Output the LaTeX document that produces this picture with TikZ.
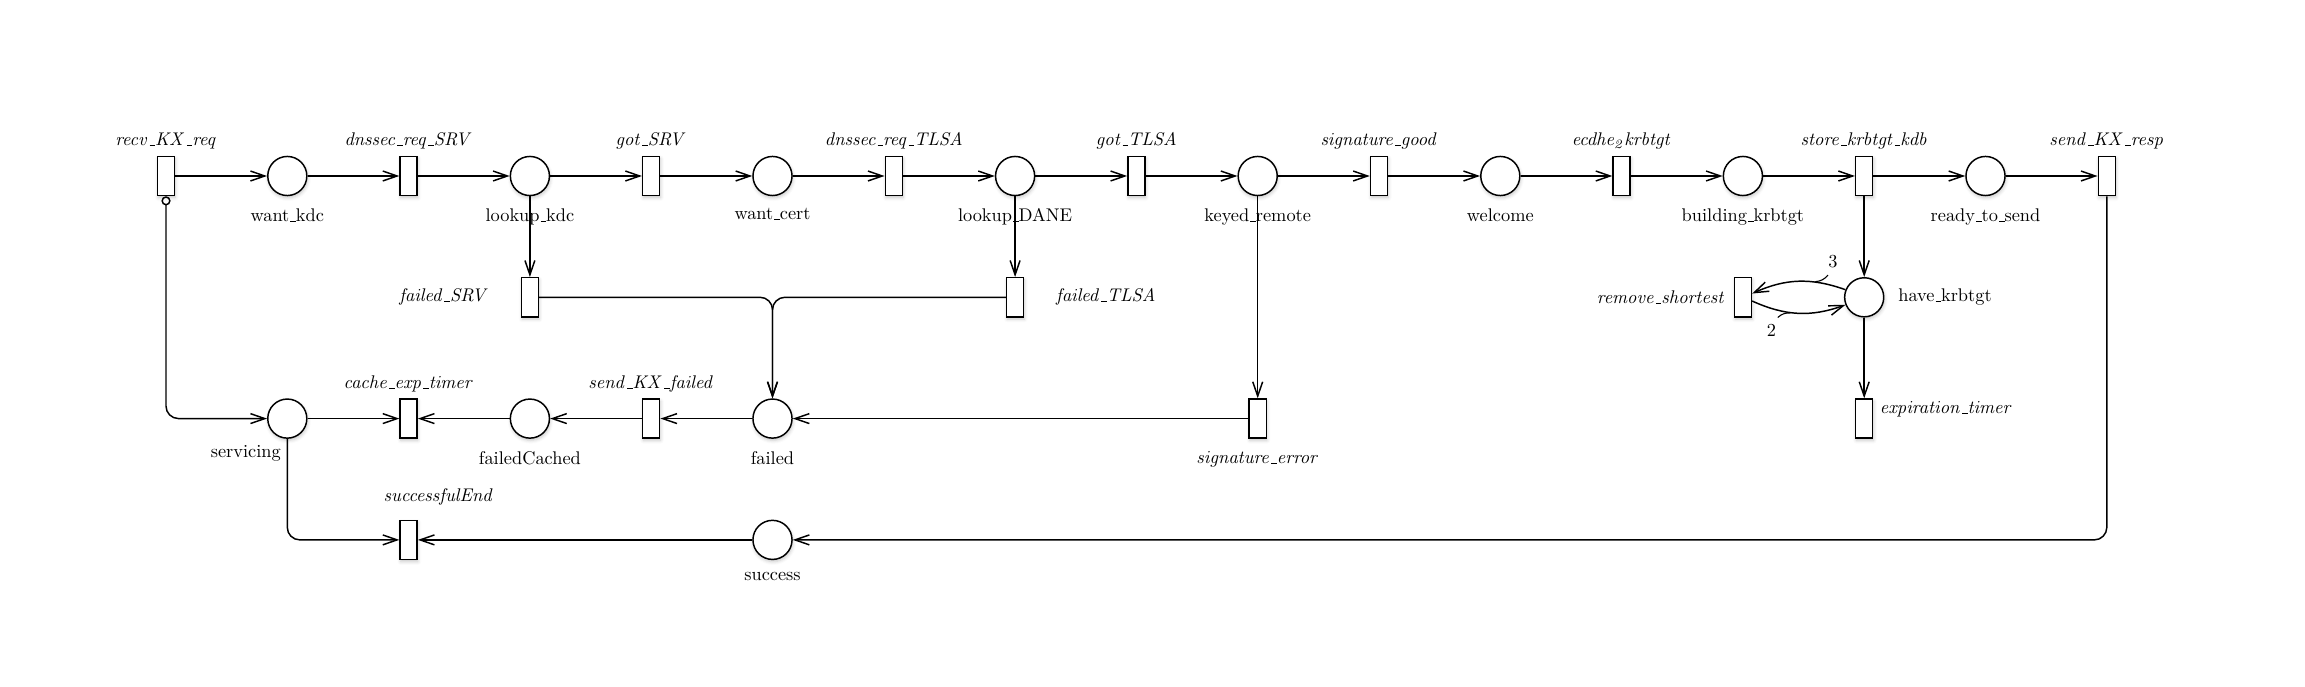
\documentclass[tikz,border=0pt]{standalone}
\usetikzlibrary{arrows.meta,shadows.blur}
\newcommand{\us}{\mbox{\kern.06em\vbox{\hrule width.3em}}}
\tikzset{
  nodeshadow/.style={blur shadow={shadow xshift=0.4pt, shadow yshift=-1.2pt, shadow blur radius=1.8pt, shadow opacity=22}},
  place/.style={circle, draw, line width=0.8pt, fill=white, minimum size=21.3pt, inner sep=0pt, nodeshadow},
  transition/.style={rectangle, draw, line width=0.8pt, fill=white, minimum width=9.3pt, minimum height=21.3pt, inner sep=0pt, nodeshadow},
  arc/.style={line width=0.8pt, -{Straight Barb[length=7.8pt,width=5.4pt]}},
  plab/.style={label={[label distance=3.2pt]below:#1}},
  tlab/.style={label={above:$\mathit{#1}$}},
  bendcorner/.style={rounded corners=6.8pt},
  weightpin/.style={pos=#1, inner sep=0pt, minimum size=0pt},
}
\begin{document}
\begin{tikzpicture}[x=0.545pt, y=-0.545pt]
\useasboundingbox (0,0) rectangle (2305,687);
% top row
\node[transition, tlab={recv\us KX\us req}] (recv) at (166,176) {};
\node[place, plab={want\us kdc}] (wantkdc) at (287.3,176) {};
\node[transition, tlab={dnssec\us req\us SRV}] (dnsSRV) at (408.6,176) {};
\node[place, plab={lookup\us kdc}] (lookupkdc) at (529.9,176) {};
\node[transition, tlab={got\us SRV}] (gotSRV) at (651.2,176) {};
\node[place, plab={want\us cert}] (wantcert) at (772.5,176) {};
\node[transition, tlab={dnssec\us req\us TLSA}] (dnsTLSA) at (893.8,176) {};
\node[place, plab={lookup\us DANE}] (lookupDANE) at (1015.1,176) {};
\node[transition, tlab={got\us TLSA}] (gotTLSA) at (1136.4,176) {};
\node[place, plab={keyed\us remote}] (keyed) at (1257.7,176) {};
\node[transition, tlab={signature\us good}] (sigood) at (1379.0,176) {};
\node[place, plab={welcome}] (welcome) at (1500.3,176) {};
\node[transition, tlab={ecdhe_2krbtgt}] (ecdhe) at (1621.6,176) {};
\node[place, plab={building\us krbtgt}] (building) at (1742.9,176) {};
\node[transition, tlab={store\us krbtgt\us kdb}] (store) at (1864.2,176) {};
\node[place, plab={ready\us to\us send}] (ready) at (1985.5,176) {};
\node[transition, tlab={send\us KX\us resp}] (sendresp) at (2106.8,176) {};
% second row
\node[transition, label={[label distance=13.8pt]left:$\mathit{failed\us SRV}$}] (failedSRV) at (529.9,297.3) {};
\node[transition, label={[label distance=13.8pt]right:$\mathit{failed\us TLSA}$}] (failedTLSA) at (1015.1,297.3) {};
\node[transition, label={[label distance=1pt]left:$\mathit{remove\us shortest}$}] (removeshortest) at (1742.9,297.3) {};
\node[place, label={[label distance=4pt]right:have\us krbtgt}] (have) at (1864.2,297.3) {};
% third row
\node[place, label={[anchor=north east]below:servicing}] (servicing) at (287.3,418.6) {};
\node[transition, tlab={cache\us exp\us timer}] (cacheexp) at (408.6,418.6) {};
\node[place, plab={failedCached}] (failedcached) at (529.9,418.6) {};
\node[transition, tlab={send\us KX\us failed}] (sendfailed) at (651.2,418.6) {};
\node[place, plab={failed}] (failed) at (772.5,418.6) {};
\node[transition, plab={$\mathit{signature\us error}$}] (sigerr) at (1257.7,418.6) {};
\node[transition, label={[anchor=west, yshift=5.2pt]right:$\mathit{expiration\us timer}$}] (exptimer) at (1864.2,418.6) {};
% fourth row
\node[transition, label={[xshift=16.4pt, yshift=4.6pt]above:$\mathit{successfulEnd}$}] (successend) at (408.6,539.9) {};
\node[place, plab={success}] (success) at (772.5,539.9) {};
% connectors
\draw[arc] (recv) -- (wantkdc);
\draw[arc] (wantkdc) -- (dnsSRV);
\draw[arc] (dnsSRV) -- (lookupkdc);
\draw[arc] (lookupkdc) -- (gotSRV);
\draw[arc] (gotSRV) -- (wantcert);
\draw[arc] (wantcert) -- (dnsTLSA);
\draw[arc] (dnsTLSA) -- (lookupDANE);
\draw[arc] (lookupDANE) -- (gotTLSA);
\draw[arc] (gotTLSA) -- (keyed);
\draw[arc] (keyed) -- (sigood);
\draw[arc] (sigood) -- (welcome);
\draw[arc] (welcome) -- (ecdhe);
\draw[arc] (ecdhe) -- (building);
\draw[arc] (building) -- (store);
\draw[arc] (store) -- (ready);
\draw[arc] (ready) -- (sendresp);
\draw[arc, bendcorner, {Circle[open,length=5pt,width=5pt]}-{Straight Barb[length=7.8pt,width=5.4pt]}] (recv) |- (servicing);
\draw[arc] (lookupkdc) -- (failedSRV);
\draw[arc] (lookupDANE) -- (failedTLSA);
\draw[arc, bendcorner] (failedSRV) -| (failed);
\draw[arc, bendcorner] (failedTLSA) -| (failed);
\draw[arc] (keyed) -- (sigerr);
\draw[arc] (sigerr) -- (failed);
\draw[arc] (failed) -- (sendfailed);
\draw[arc] (sendfailed) -- (failedcached);
\draw[arc] (failedcached) -- (cacheexp);
\draw[arc] (servicing) -- (cacheexp);
\draw[arc, bendcorner] (servicing) |- (successend);
\draw[arc] (success) -- (successend);
\draw[arc, bendcorner] (sendresp) |- (success);
\draw[arc] (store) -- (have);
\draw[arc] (have) -- (exptimer);
\draw[arc] (have) to[bend right=22] node[weightpin=0.32, pin={[pin distance=4.8pt, pin edge={-, black, line width=0.6pt}]45:3}] (w3) {} (removeshortest);
\draw[arc] (removeshortest) to[bend right=22] node[weightpin=0.42, pin={[pin distance=4.8pt, pin edge={-, black, line width=0.6pt}]210:2}] (w2) {} (have);
\end{tikzpicture}
\end{document}
